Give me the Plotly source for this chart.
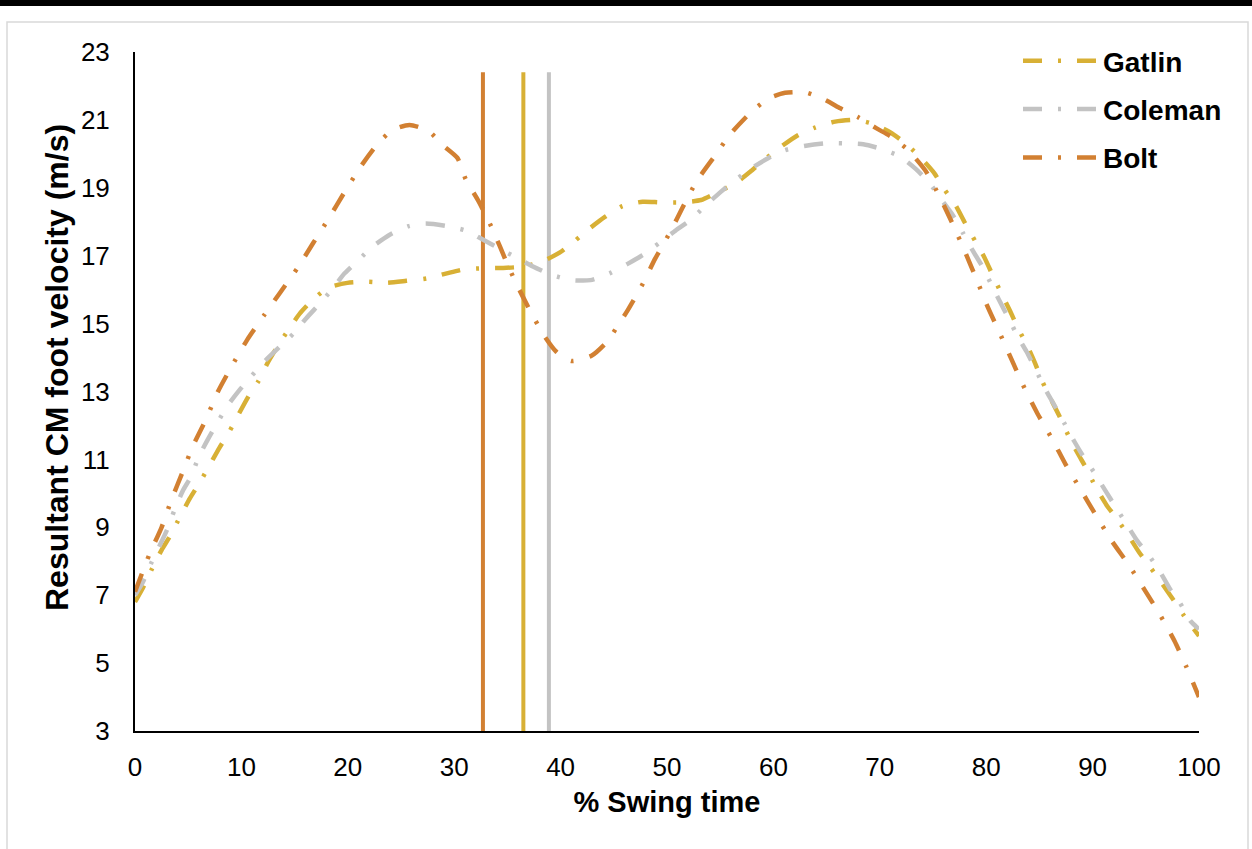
import plotly.graph_objects as go

# ---- data ----
gatlin_x = [0, 0.8, 1.6, 2.5, 3.35, 4.23, 5.17, 6.05, 6.98, 7.93, 8.87, 9.74, 10.65, 11.59, 12.44,
            13.47, 14.4, 15.5, 16.76, 18.17, 19.96, 21.9, 23.6, 25.5, 27.4, 29.3, 30.95, 32.7, 34.6,
            36.5, 38.2, 39.9, 41.35, 42.8, 44.2, 45.8, 47.7, 49.4, 51.3, 53.2, 54.7, 56.5, 58.0, 59.2,
            60.8, 62.3, 63.9, 65.8, 67.7, 69.2, 71.0, 72.6, 73.8, 75.1, 76.1, 77.1, 78.0, 79.0, 79.8,
            80.6, 81.5, 82.2, 83.0, 83.9, 84.6, 85.3, 86.2, 86.9, 87.7, 88.6, 89.4, 90.3, 91.3, 92.3,
            93.4, 94.4, 95.5, 96.55, 97.6, 98.6, 100]
gatlin_y = [6.8, 7.25, 7.78, 8.33, 8.77, 9.31, 9.86, 10.3, 10.81, 11.34, 11.82, 12.33, 12.85, 13.3, 13.83,
            14.37, 14.81, 15.3, 15.72, 16.06, 16.2, 16.23, 16.2, 16.26, 16.33, 16.48, 16.6, 16.63, 16.64,
            16.68, 16.82, 17.09, 17.44, 17.82, 18.15, 18.46, 18.59, 18.57, 18.57, 18.64, 18.86, 19.15, 19.52, 19.84,
            20.23, 20.55, 20.77, 20.95, 21.0, 20.9, 20.63, 20.26, 19.9, 19.44, 18.94, 18.5, 17.97, 17.41, 16.97,
            16.43, 15.84, 15.4, 14.86, 14.32, 13.83, 13.28, 12.7, 12.26, 11.72, 11.18, 10.74, 10.18, 9.66, 9.24,
            8.74, 8.25, 7.79, 7.33, 6.86, 6.39, 5.8]

coleman_x = [0, 0.7, 1.47, 2.3, 3.0, 3.7, 4.5, 5.26, 6.0, 6.9, 7.7, 8.7, 9.87, 10.96, 12.3, 13.6, 14.9,
             16.1, 17.4, 18.5, 19.7, 21.1, 22.3, 23.9, 25.7, 27.3, 29.2, 31.1, 32.6, 34.3, 36.0, 37.4,
             39.2, 41.1, 42.8, 44.6, 46.3, 47.7, 49.3, 50.8, 52.2, 53.6, 55.05, 56.3, 57.9, 59.5, 61.1,
             62.9, 64.8, 66.6, 68.45, 70.3, 71.9, 73.4, 74.7, 75.7, 76.85, 77.8, 78.6, 79.6, 80.5, 81.2,
             82.1, 83.0, 83.8, 84.7, 85.6, 86.4, 87.3, 88.3, 89.1, 90.2, 91.2, 92.1, 93.1, 94.2, 95.2,
             96.3, 97.3, 98.2, 99.2, 100]
coleman_y = [7.0, 7.36, 7.91, 8.45, 8.92, 9.5, 10.08, 10.49, 11.08, 11.62, 12.06, 12.58, 13.06, 13.46, 13.93, 14.32, 14.71,
             15.16, 15.6, 16.0, 16.48, 16.9, 17.26, 17.61, 17.87, 17.95, 17.88, 17.74, 17.49, 17.2, 16.92, 16.68,
             16.43, 16.28, 16.28, 16.48, 16.76, 17.02, 17.38, 17.74, 18.05, 18.47, 18.88, 19.2, 19.57, 19.87, 20.11,
             20.23, 20.31, 20.31, 20.28, 20.13, 19.92, 19.55, 19.13, 18.69, 18.2, 17.68, 17.22, 16.7, 16.14, 15.7,
             15.16, 14.6, 14.17, 13.61, 13.04, 12.6, 12.09, 11.52, 11.1, 10.59, 10.08, 9.63, 9.14, 8.6, 8.21,
             7.71, 7.17, 6.78, 6.24, 6.0]

bolt_x = [0, 1.35, 2.5, 3.45, 4.5, 5.45, 6.7, 7.8, 9.1, 10.5, 12.1, 13.7, 15.3, 16.76, 18.25, 19.67,
          21.2, 22.8, 24.2, 25.8, 27.6, 28.9, 30.3, 31.1, 32.3, 33.6, 35.0, 35.8, 37.1, 38.4, 39.6,
          41.0, 42.9, 44.3, 45.3, 46.3, 47.6, 48.9, 50.3, 51.5, 52.8, 54.4, 56.0, 58.0, 59.6, 61.1,
          63.0, 64.8, 66.3, 68.0, 69.7, 71.1, 72.6, 74.3, 75.7, 76.9, 78.0, 79.1, 80.1, 81.3, 82.4,
          83.6, 84.8, 86.2, 87.5, 88.9, 90.3, 91.8, 93.4, 94.9, 96.3, 97.7, 98.8, 100]
bolt_y = [7.1, 8.2, 9.0, 9.83, 10.65, 11.4, 12.2, 13.0, 13.75, 14.5, 15.23, 15.94, 16.65, 17.38, 18.12, 18.86,
          19.62, 20.29, 20.7, 20.85, 20.67, 20.26, 19.88, 19.24, 18.6, 17.78, 16.75, 16.2, 15.4, 14.67, 14.17,
          13.9, 14.05, 14.44, 14.9, 15.39, 16.1, 16.92, 17.7, 18.44, 19.2, 19.9, 20.6, 21.26, 21.64, 21.8,
          21.81, 21.6, 21.34, 21.07, 20.75, 20.5, 20.13, 19.5, 18.69, 17.9, 17.12, 16.3, 15.52, 14.7, 13.93,
          13.1, 12.36, 11.6, 10.83, 10.1, 9.36, 8.6, 7.89, 7.15, 6.44, 5.65, 4.9, 4.0]

# vertical markers (% swing time) and their top value
marker_names = ["Bolt", "Gatlin", "Coleman"]
marker_x = [32.7, 36.5, 38.9]
marker_top = 22.4
y_min, y_max = 3, 23

x_title = "% Swing time"
y_title = "Resultant CM foot velocity (m/s)"

colors = {"Gatlin": "#D8B035", "Coleman": "#C3C3C3", "Bolt": "#D28032"}
FONT = "Liberation Sans, Arial, sans-serif"
DASH = "19px,16px,3px,16px"

fig = go.Figure()

for name, xv in zip(marker_names, marker_x):
    fig.add_trace(go.Scatter(x=[xv, xv], y=[y_min, marker_top], mode="lines",
                             line=dict(color=colors[name], width=4), showlegend=False,
                             hoverinfo="skip"))

series = [("Gatlin", gatlin_x, gatlin_y), ("Coleman", coleman_x, coleman_y), ("Bolt", bolt_x, bolt_y)]
for name, xs, ys in series:
    fig.add_trace(go.Scatter(x=xs, y=ys, mode="lines", name=name, legendgroup=name,
                             line=dict(color=colors[name], width=4.5, dash=DASH, shape="spline",
                                       smoothing=0.6)))

W, H = 1252, 849
L, R, T, B = 135, 53, 52, 118
pw, ph = W - L - R, H - T - B

def px_to_paper_x(p):
    return (p - L) / pw

def px_to_paper_y(p):
    return (H - B - p) / ph

shapes = [
    # outer light grey chart frame
    dict(type="rect", xref="paper", yref="paper",
         x0=px_to_paper_x(7), x1=px_to_paper_x(1248), y0=px_to_paper_y(860), y1=px_to_paper_y(22),
         line=dict(color="#D9D9D9", width=1.5), fillcolor="rgba(0,0,0,0)", layer="below"),
    # thick black rule at the very top
    dict(type="rect", xref="paper", yref="paper",
         x0=px_to_paper_x(-5), x1=px_to_paper_x(1260), y0=px_to_paper_y(6), y1=px_to_paper_y(-5),
         line=dict(width=0), fillcolor="#000000", layer="above"),
]

annotations = [
    dict(text=y_title, textangle=-90, xref="paper", yref="paper",
         x=px_to_paper_x(57), y=px_to_paper_y(368), xanchor="center", yanchor="middle",
         showarrow=False, font=dict(family=FONT, size=32, color="#000000", weight="bold")),
]

fig.update_layout(
    width=W, height=H,
    margin=dict(l=L, r=R, t=T, b=B, autoexpand=False),
    paper_bgcolor="white", plot_bgcolor="white",
    font=dict(family=FONT, color="#000000", size=26),
    shapes=shapes,
    annotations=annotations,
    showlegend=True,
    legend=dict(x=px_to_paper_x(1018), y=px_to_paper_y(36), xanchor="left", yanchor="top",
                font=dict(family=FONT, size=28, color="#000000", weight="bold"),
                bgcolor="rgba(0,0,0,0)", itemwidth=75, tracegroupgap=9,
                traceorder="grouped"),
    xaxis=dict(range=[0, 100], tick0=0, dtick=10, showgrid=False, zeroline=False,
               showline=True, linecolor="#000000", linewidth=2, ticks="",
               tickfont=dict(family=FONT, size=26, color="#000000"),
               ticklabelstandoff=12,
               title=dict(text=x_title, standoff=10,
                          font=dict(family=FONT, size=29, color="#000000", weight="bold")),
               automargin=False),
    yaxis=dict(range=[y_min, y_max], tick0=3, dtick=2, showgrid=False, zeroline=False,
               showline=True, linecolor="#000000", linewidth=2, ticks="",
               tickfont=dict(family=FONT, size=26, color="#000000"),
               ticklabelstandoff=18,
               automargin=False),
)

fig.write_html("out.html")
